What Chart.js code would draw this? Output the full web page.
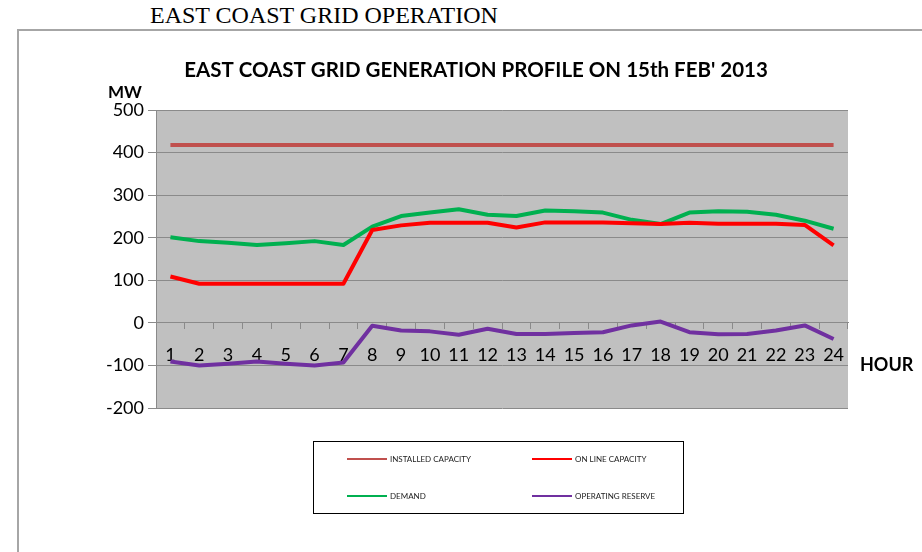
<!DOCTYPE html>
<html>
<head>
<meta charset="utf-8">
<title>East Coast Grid Generation Profile</title>
<script src="https://cdn.jsdelivr.net/npm/chart.js@4"></script>
<style>
  html, body { margin: 0; padding: 0; background: #fff; overflow: hidden; }
  #page { position: relative; width: 922px; height: 552px; overflow: hidden; }
  #pageTitle {
    position: absolute; left: 150px; top: 2px;
    font-family: "Liberation Serif", "Times New Roman", serif;
    font-size: 24px; white-space: nowrap;
  }
  #frame { position: absolute; left: 17px; top: 29px; width: 1000px; height: 600px; border: 2px solid #a6a6a6; }
  #wrap { position: absolute; left: 0; top: 0; width: 922px; height: 552px; }
</style>
</head>
<body>
<div id="page">
  <div id="pageTitle">EAST COAST GRID OPERATION</div>
  <div id="frame"></div>
  <div id="wrap"><canvas id="gridChart" width="922" height="552"></canvas></div>
</div>
<script>
// hourly data (MW)
const hours = ['1', '2', '3', '4', '5', '6', '7', '8', '9', '10', '11', '12',
               '13', '14', '15', '16', '17', '18', '19', '20', '21', '22', '23', '24'];

const installedCapacity = [418, 418, 418, 418, 418, 418, 418, 418, 418, 418, 418, 418,
                           418, 418, 418, 418, 418, 418, 418, 418, 418, 418, 418, 418];
const onlineCapacity = [109, 92, 92, 92, 92, 92, 92, 218, 229, 235, 235, 235,
                        224, 236, 236, 236, 234, 232, 235, 233, 233, 233, 230, 182];
const demand = [201, 192, 188, 183, 187, 192, 183, 226, 251, 259, 267, 254,
                251, 264, 262, 259, 242, 232, 259, 262, 261, 254, 240, 221];
const operatingReserve = [-91, -100, -96, -91, -96, -100, -93, -7, -18, -20, -28, -14,
                          -26, -26, -24, -22, -6, 3, -22, -27, -26, -18, -6, -38];

const yMin = -200;
const yMax = 500;
const yStep = 100;

const gridGray = '#8a8a8a';
const tickFont = { family: 'Lato', size: 18 };

// grey plot background
const plotBg = {
    id: 'plotBg',
    beforeDraw(chart) {
        const { ctx, chartArea: a } = chart;
        ctx.save();
        ctx.fillStyle = '#c0c0c0';
        ctx.fillRect(a.left, a.top, a.right - a.left, a.bottom - a.top);
        ctx.restore();
    }
};

// title, axis captions and the boxed legend
const extras = {
    id: 'extras',
    afterDraw(chart) {
        const ctx = chart.ctx;
        ctx.save();
        ctx.fillStyle = '#000';
        ctx.textBaseline = 'middle';

        ctx.font = 'bold 20.5px Lato';
        ctx.textAlign = 'center';
        ctx.fillText('EAST COAST GRID GENERATION PROFILE ON 15th FEB\' 2013', 476, 70);

        ctx.font = 'bold 17px Lato';
        ctx.textAlign = 'left';
        ctx.fillText('MW', 108, 93);
        ctx.font = 'bold 18px Lato';
        ctx.fillText('HOUR', 860, 365);

        // legend box
        ctx.fillStyle = '#fff';
        ctx.fillRect(313, 441, 370, 72);
        ctx.strokeStyle = '#000';
        ctx.lineWidth = 1;
        ctx.strokeRect(313.5, 441.5, 370, 72);

        const spots = [[347, 459], [532, 459], [347, 496], [532, 496]];
        ctx.font = '8px Lato';
        chart.data.datasets.forEach((ds, i) => {
            const [x, y] = spots[i];
            ctx.strokeStyle = ds.borderColor;
            ctx.lineWidth = 2;
            ctx.beginPath();
            ctx.moveTo(x, y);
            ctx.lineTo(x + 40, y);
            ctx.stroke();
            ctx.fillStyle = '#222';
            ctx.fillText(ds.label, x + 43, y);
        });
        ctx.restore();
    }
};

const lineSet = (label, data, color) => ({
    label: label,
    data: data,
    borderColor: color,
    backgroundColor: color,
    borderWidth: 4,
    pointRadius: 0,
    tension: 0,
    borderJoinStyle: 'round'
});

const cfg = {
    type: 'line',
    data: {
        labels: hours,
        datasets: [
            lineSet('INSTALLED CAPACITY', installedCapacity, '#c0504d'),
            lineSet('ON LINE CAPACITY', onlineCapacity, '#ff0000'),
            lineSet('DEMAND', demand, '#00b050'),
            lineSet('OPERATING RESERVE', operatingReserve, '#7030a0')
        ]
    },
    options: {
        responsive: false,
        animation: false,
        layout: { padding: { left: 0, top: 110, right: 74, bottom: 144 } },
        plugins: {
            legend: { display: false },
            title: { display: false },
            tooltip: { enabled: false }
        },
        scales: {
            x: {
                type: 'category',
                offset: true,
                position: { y: 0 },
                grid: { drawOnChartArea: false, drawTicks: true, tickLength: 6, offset: true, color: gridGray },
                border: { display: true, color: gridGray, width: 1 },
                ticks: { padding: 16, font: tickFont, color: '#000', maxRotation: 0, autoSkip: false },
                afterFit(s) { s.paddingLeft = 0; s.paddingRight = 0; s.paddingTop = 0; s.paddingBottom = 0; }
            },
            y: {
                min: yMin,
                max: yMax,
                ticks: { stepSize: yStep, font: tickFont, color: '#000', padding: 4 },
                grid: { color: gridGray, tickLength: 8 },
                border: { display: true, color: gridGray },
                afterFit(s) { s.width = 156; s.paddingTop = 0; s.paddingBottom = 0; s.paddingLeft = 0; s.paddingRight = 0; }
            }
        }
    },
    plugins: [plotBg, extras]
};

new Chart(document.getElementById('gridChart'), cfg);
</script>
</body>
</html>
